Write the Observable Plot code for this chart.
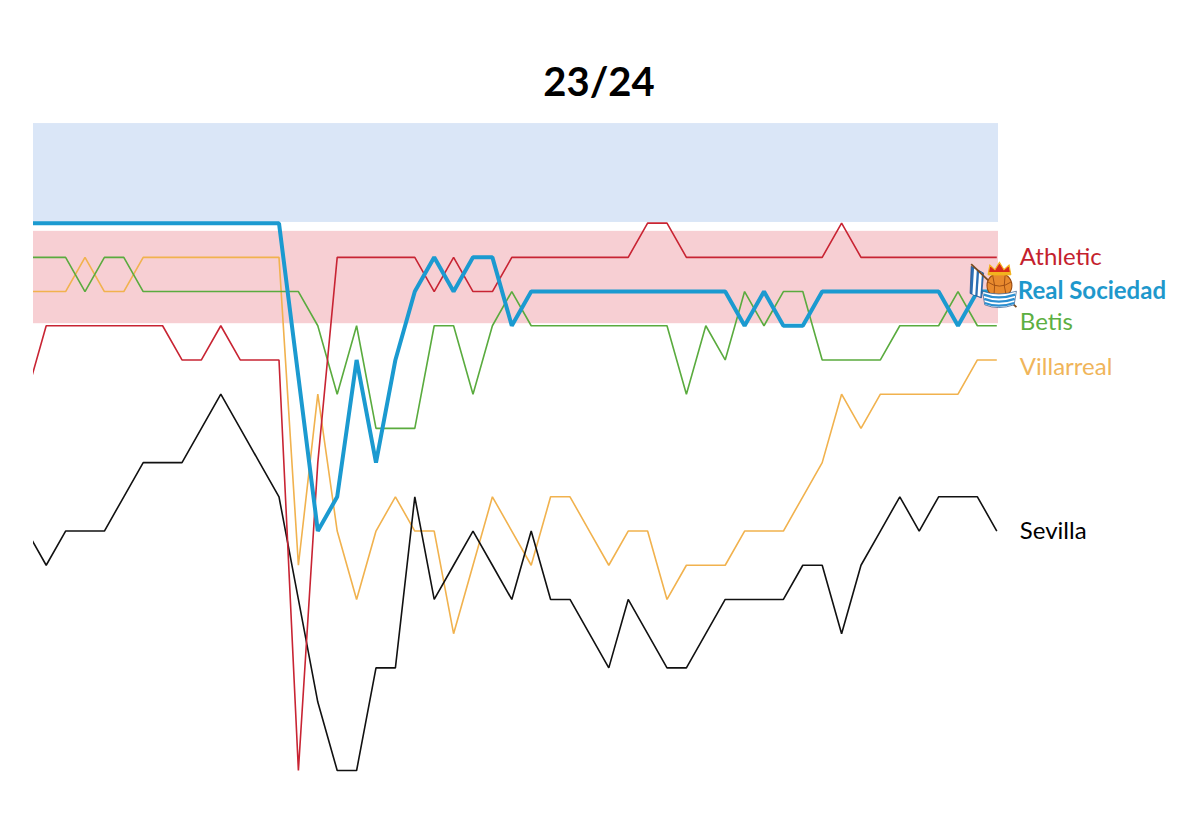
<!DOCTYPE html>
<html>
<head>
<meta charset="utf-8">
<script src="https://cdn.jsdelivr.net/npm/d3@7"></script>
<script src="https://cdn.jsdelivr.net/npm/@observablehq/plot@0.6"></script>
<style>
  html, body { margin: 0; padding: 0; background: #fff; }
  #wrap { width: 1200px; height: 840px; position: relative; overflow: hidden; }
  #title { position: absolute; left: 0; top: 61px; width: 1198px; text-align: center;
           font: 700 40px/40px Lato, "Open Sans", sans-serif; color: #000; }
  #chart { position: absolute; left: 0; top: 110px; }
</style>
</head>
<body>
<div id="wrap">
  <div id="title">23/24</div>
  <div id="chart"></div>
</div>
<script>
// Matchdays shown: last 14 of 22/23 (J25–J38) followed by 23/24 J1–J37
const seasons  = ["22/23","22/23","22/23","22/23","22/23","22/23","22/23","22/23","22/23","22/23","22/23","22/23","22/23","22/23",
  "23/24","23/24","23/24","23/24","23/24","23/24","23/24","23/24","23/24","23/24","23/24","23/24","23/24","23/24","23/24","23/24","23/24","23/24","23/24","23/24","23/24","23/24","23/24","23/24","23/24","23/24","23/24","23/24","23/24","23/24","23/24","23/24","23/24","23/24","23/24","23/24","23/24"];
const matchdays = [25,26,27,28,29,30,31,32,33,34,35,36,37,38,
  1,2,3,4,5,6,7,8,9,10,11,12,13,14,15,16,17,18,19,20,21,22,23,24,25,26,27,28,29,30,31,32,33,34,35,36,37];

const teams = ["Villarreal", "Betis", "Sevilla", "Athletic", "Real Sociedad"];

// League position per matchday
const athletic     = [9, 7,7,7,7,7,7,7, 8,8,7,8,8,8, 20,11, 5,5,5,5,5, 6,5,6,6, 5,5,5,5,5,5,5, 4,4, 5,5,5,5,5,5,5,5, 4, 5,5,5,5,5,5,5,5];
const realSociedad = [4,4,4,4,4,4,4,4,4,4,4,4,4,4, 8.5,13,12,8,11,8,6,5,6,5,5,7, 6,6,6,6,6,6,6,6,6,6,6, 7,6,7,7, 6,6,6,6,6,6,6, 7,6,6];
const betis        = [5,5,5,6,5,5, 6,6,6,6,6,6,6,6,6, 7,9,7,10,10,10,7,7,9,7,6, 7,7,7,7,7,7,7,7, 9,7,8,6,7,6,6, 8,8,8,8, 7,7,7, 6,7,7];
const villarreal   = [6,6,6,5,6,6, 5,5,5,5,5,5,5,5, 14,9,13,15,13,12,13,13,16,14,12,13,14,12,12,13,14,13,13,15,14,14,14,13,13,13,12,11,9,10, 9,9,9,9,9, 8,8];
const sevilla      = [13,14,13,13,13,12,11,11,11,10,9,10,11,12, 15,18,20,20,17,17,12,15,14,13,14,15,13,15,15,16,17,15,16,17,17,16,15,15,15,15,14,14,16,14,13,12,13,12,12,12,13];

// Zones (in rank units)
const zoneTop    = [1.09, 4.24];
const zoneBottom = [3.98, 6.94];
const zoneColor  = ["#dae6f7", "#f7cfd3"];

const series = {
  "Athletic": athletic,
  "Real Sociedad": realSociedad,
  "Betis": betis,
  "Villarreal": villarreal,
  "Sevilla": sevilla
};

const lineColor = {
  "Athletic": "#c82433",
  "Real Sociedad": "#1b9ad0",
  "Betis": "#5aab3e",
  "Villarreal": "#f1b24e",
  "Sevilla": "#111111"
};
const textColor = {
  "Athletic": "#c41f2e",
  "Real Sociedad": "#1e98cc",
  "Betis": "#5caf42",
  "Villarreal": "#f0b55a",
  "Sevilla": "#000000"
};

const rows = [];
for (const t of teams) {
  series[t].forEach((r, i) => rows.push({team: t, i, season: seasons[i], md: matchdays[i], rank: r}));
}
const zones = zoneTop.map((t, k) => ({top: t, bottom: zoneBottom[k], color: zoneColor[k]}));
const last = teams.map(t => rows.filter(d => d.team === t).at(-1));

const labelNudge = {"Betis": -3, "Villarreal": 7};

const crestSvg = `<svg xmlns='http://www.w3.org/2000/svg' viewBox='0 0 44 46'>
<path d='M2 6 L13 12 L11 34 L1 30 Z' fill='#2b6fb3' stroke='#1d4f87' stroke-width='0.6'/>
<path d='M4.5 7.8 L7 9.2 L5.6 31.6 L3.1 30.6 Z' fill='#fff'/>
<path d='M9 10.6 L11.5 12 L10.1 33 L7.6 32 Z' fill='#fff'/>
<line x1='2' y1='4' x2='42' y2='42' stroke='#7a4a1e' stroke-width='1.6'/>
<circle cx='27' cy='23' r='11' fill='#e88a2e' stroke='#9a4a12' stroke-width='1'/>
<path d='M17 20 Q27 27 37 20 M21 14 Q24 23 22 33 M32 14 Q30 23 33 32' stroke='#9a4a12' fill='none' stroke-width='0.8'/>
<path d='M17 13 L18.5 5 L23 9 L27 2.5 L31 9 L35.5 5 L37 13 Z' fill='#d8281c' stroke='#f2b31e' stroke-width='1'/>
<rect x='17' y='11' width='20' height='3' fill='#f2b31e'/>
<path d='M12 28 Q26 33 42 28 L40 40 Q26 45 14 40 Z' fill='#fff' stroke='#1d4f87' stroke-width='0.6'/>
<path d='M13 31 Q26 36 41 31 M13.5 34.8 Q26 39.8 40.5 34.8 M14 38.4 Q26 43 40 38.4' stroke='#2b8fd0' stroke-width='2' fill='none'/>
</svg>`;
const crest = "data:image/svg+xml;utf8," + encodeURIComponent(crestSvg);

const marks = [
  Plot.rect(zones, {y1: "top", y2: "bottom", fill: "color"})
];
for (const t of teams) {
  const isRS = t === "Real Sociedad";
  marks.push(Plot.line(rows.filter(d => d.team === t), {
    x: "i", y: "rank", stroke: lineColor[t],
    strokeWidth: isRS ? 4 : 1.6,
    strokeLinejoin: "miter", strokeLinecap: "butt",
    clip: true
  }));
}
for (const t of teams) {
  const isRS = t === "Real Sociedad";
  marks.push(Plot.text(last.filter(d => d.team === t), {
    x: "i", y: "rank", text: "team",
    fill: textColor[t], fontSize: 24, fontWeight: isRS ? 700 : 400,
    textAnchor: "start", dx: isRS ? 21 : 23, dy: labelNudge[t] ?? 0
  }));
}
marks.push(Plot.image(last.filter(d => d.team === "Real Sociedad"), {
  x: "i", y: "rank", src: crest, width: 50, height: 52, dx: -3, dy: -6
}));

const chart = Plot.plot({
  width: 1200, height: 730,
  marginLeft: 33, marginRight: 202, marginTop: 0, marginBottom: 40,
  x: {domain: [1, 50], range: [45.7, 996.3], axis: null},
  y: {domain: [1, 20], range: [10, 660], axis: null},
  style: {fontFamily: "Lato, 'Open Sans', sans-serif", background: "white", overflow: "visible"},
  marks
});
document.getElementById("chart").append(chart);
</script>
</body>
</html>
